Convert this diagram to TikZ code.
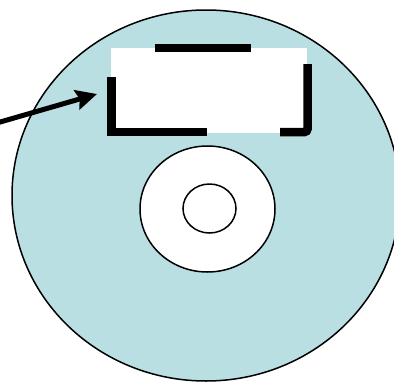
\documentclass[tikz,border=0pt]{standalone}
\usetikzlibrary{arrows.meta}
\definecolor{disc}{RGB}{185,223,226}
\begin{document}
\begin{tikzpicture}[x=1pt,y=-1pt,
  outline/.style={draw=black,line width=1.5pt},
  bar/.style={draw=black,line width=8.5pt},
  pointer/.style={draw=black,line width=5pt,-{Stealth[length=21pt,width=20pt,inset=3pt]}}]
\useasboundingbox (0,0) rectangle (394,381);
\begin{scope}
\clip (0,0) rectangle (394,381);
\path[outline,fill=disc] (206,195.5) ellipse [x radius=194,y radius=185.5];
\fill[white] (111,48) rectangle (307,133);
\path[bar] (155,48) -- (251,48);
\path[bar] (111.5,77) -- (111.5,132) -- (207,132);
\path[bar,rounded corners=3pt] (280,132) -- (307.5,132) -- (307.5,64);
\path[outline,fill=white] (207.5,209) ellipse [x radius=67.5,y radius=63];
\path[outline,fill=white] (209.5,208.5) ellipse [x radius=26.5,y radius=24.5];
\coordinate (start) at (-5,123.5);
\coordinate (tip) at (97,94);
\path[pointer] (start) -- (tip);
\end{scope}
\end{tikzpicture}
\end{document}
